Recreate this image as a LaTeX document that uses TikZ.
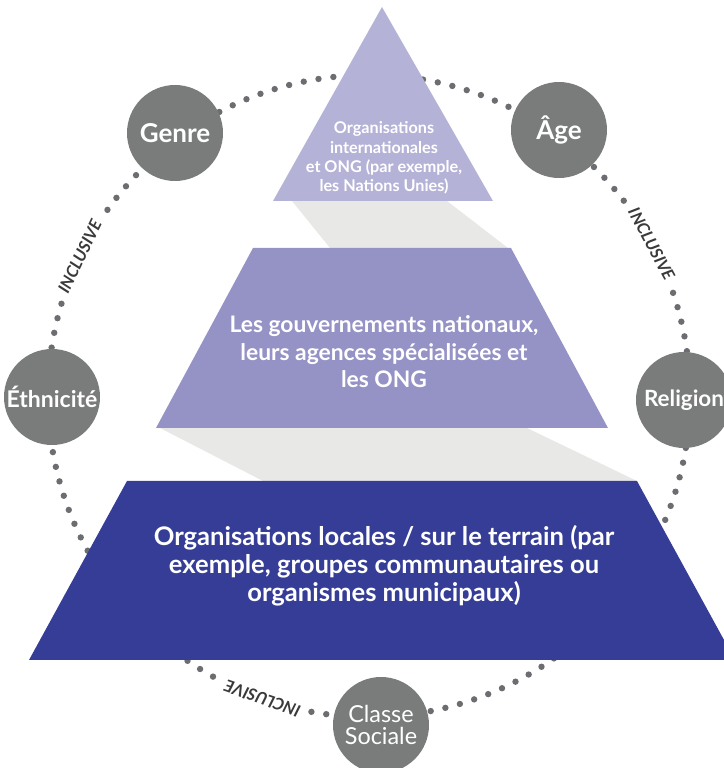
\documentclass[tikz,border=0pt]{standalone}
\usepackage{fontspec}
\setmainfont{Lato}
\usetikzlibrary{calc}
\definecolor{tiertop}   {HTML}{B4B3D7}
\definecolor{tiermid}   {HTML}{9592C6}
\definecolor{tierlow}   {HTML}{363D96}
\definecolor{shadegray} {HTML}{E8E8E6}
\definecolor{badgegray} {HTML}{7A7C7C}
\definecolor{dotgray}   {HTML}{6B6D70}
\definecolor{inclgray}  {HTML}{3A3A3A}

\begin{document}
\begin{tikzpicture}[
  tiertxt/.style={text=white,align=center,font=\bfseries},
  badge/.style={circle,fill=badgegray,text=white,minimum size=48pt,
                inner sep=0pt,align=center,
                font=\bfseries\fontsize{11.5}{12}\selectfont},
  bigbadge/.style={badge,font=\bfseries\fontsize{13}{14}\selectfont},
  incl/.style={fill=white,text=inclgray,inner xsep=3pt,inner ysep=1pt,
               font=\bfseries\itshape\fontsize{8.3}{9}\selectfont},
  dots/.style={dotgray,line width=3.2pt,line cap=round,
               dash pattern=on 0pt off 7.5pt},
  x=0.5pt,y=0.5pt
]
\useasboundingbox (0,0) rectangle (724,768);
\coordinate (C) at (369,372);

% Dotted ring
\draw[dots] (C) circle (321);
\node[incl,rotate=64.3]  (inL) at ($(C)+(154.3:321)$) {INCLUSIVE};
\node[incl,rotate=-61.7] (inR) at ($(C)+(28.3:321)$)  {INCLUSIVE};
\node[incl,rotate=160.6] (inB) at ($(C)+(250.6:321)$) {INCLUSIVE};

% Badges
\node[bigbadge] (genre) at (175,635) {Genre};
\node[bigbadge] (age)   at (559,638) {Âge};
\node[badge]    (eth)   at (52,371)  {Éthnicité};
\node[badge,font=\bfseries\fontsize{11.2}{12}\selectfont] (rel) at (684,368)
  {Religion};
\node[badge,font=\fontsize{11.7}{10.8}\selectfont] (cls) at (381,43)
  {Classe\\Sociale};

% Shadows
\fill[shadegray] (292,567) -- (447,567) -- (508,520) -- (330,520) -- cycle;
\fill[shadegray] (160,340) -- (527,340) -- (637,287) -- (263,287) -- cycle;

% Pyramid tiers
\fill[tiertop] (382,761) -- (493,567) -- (273,567) -- cycle;
\fill[tiermid] (253,520) -- (511,520) -- (608,340) -- (156,340) -- cycle;
\fill[tierlow] (127,287) -- (637,287) -- (735,108) -- (29,108) -- cycle;

\node[tiertxt,font=\bfseries\fontsize{8.1}{9.6}\selectfont] (tTop) at (384,610)
  {Organisations\\internationales\\et ONG (par exemple,\\les Nations Unies)};
\node[tiertxt,font=\bfseries\fontsize{11.4}{13.8}\selectfont] (tMid) at (384,416)
  {Les gouvernements nationaux,\\leurs agences spécialisées et\\les ONG};
\node[tiertxt,font=\bfseries\fontsize{12.8}{14}\selectfont] (tLow) at (384,202)
  {Organisations locales / sur le terrain (par\\exemple, groupes communautaires ou\\organismes municipaux)};
\end{tikzpicture}
\end{document}
